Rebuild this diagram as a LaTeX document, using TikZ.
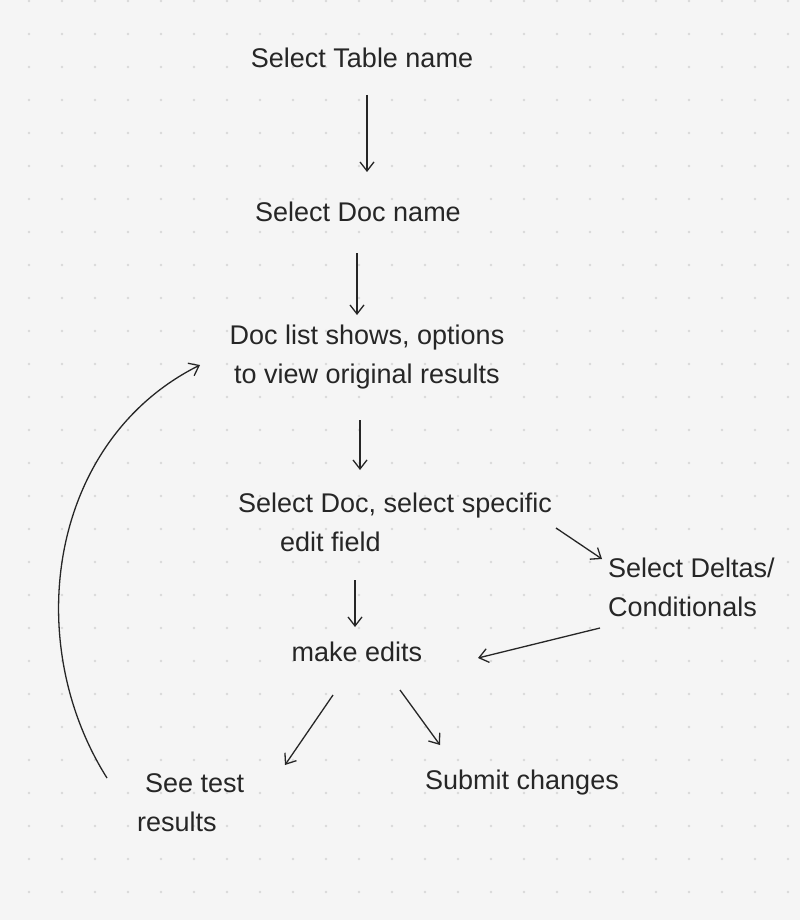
\documentclass[tikz,border=0pt]{standalone}
\usepackage{fontspec}
\setmainfont{Liberation Sans}
\usetikzlibrary{arrows.meta}
\begin{document}
\begin{tikzpicture}[x=1pt,y=-1pt,
  lbl/.style={inner sep=2pt, font=\fontsize{27}{39}\selectfont, text=black!85},
  arr/.style={draw=black!85, line width=1.3pt, -{Straight Barb[length=9pt,width=14pt]}}]
  \fill[black!4] (0,0) rectangle (800,920);
  \useasboundingbox (0,0) rectangle (800,920);
  \foreach \i in {0,...,24} {\foreach \j in {0,...,28} {
    \fill[black!15] (-4+33*\i, 1+33*\j) circle (1.3);
  }}
  \node[lbl] (t1) at (362,58) {Select Table name};
  \node[lbl] (t2) at (358,212) {Select Doc name};
  \node[lbl, align=center] (t3) at (367,357) {Doc list shows, options\\to view original results};
  \node[lbl, align=left] (t4) at (395,522) {Select Doc, select specific\\\hspace*{42pt}edit field};
  \node[lbl] (t5) at (357,652) {make edits};
  \node[lbl, align=left, anchor=west] (t6) at (606,587) {Select Deltas/\\Conditionals};
  \node[lbl, align=left, anchor=west] (t7) at (135,803) {\hspace*{8pt}See test\\results};
  \node[lbl] (t8) at (522,783) {Submit changes};
  \draw[arr] ([shift={(5,37)}]t1.center) -- ([shift={(9,-40)}]t2.center);
  \draw[arr] ([shift={(-1,41)}]t2.center) -- ([shift={(-10,-42)}]t3.center);
  \draw[arr] ([shift={(-7,63)}]t3.center) -- ([shift={(-35,-52)}]t4.center);
  \draw[arr] ([shift={(-40,58)}]t4.center) -- ([shift={(-2,-25)}]t5.center);
  \draw[arr] ([shift={(161,6)}]t4.center) -- ([shift={(-4,-28)}]t6.west);
  \draw[arr] ([shift={(-6,41)}]t6.west) -- ([shift={(121,6)}]t5.center);
  \draw[arr] ([shift={(-24,43)}]t5.center) -- ([shift={(150,-38)}]t7.west);
  \draw[arr] ([shift={(43,38)}]t5.center) -- ([shift={(-82,-38)}]t8.center);
  \draw[arr] ([shift={(-28,-25)}]t7.west) .. controls (20,640) and (50,440) .. ([shift={(-167,8)}]t3.center);
\end{tikzpicture}
\end{document}
